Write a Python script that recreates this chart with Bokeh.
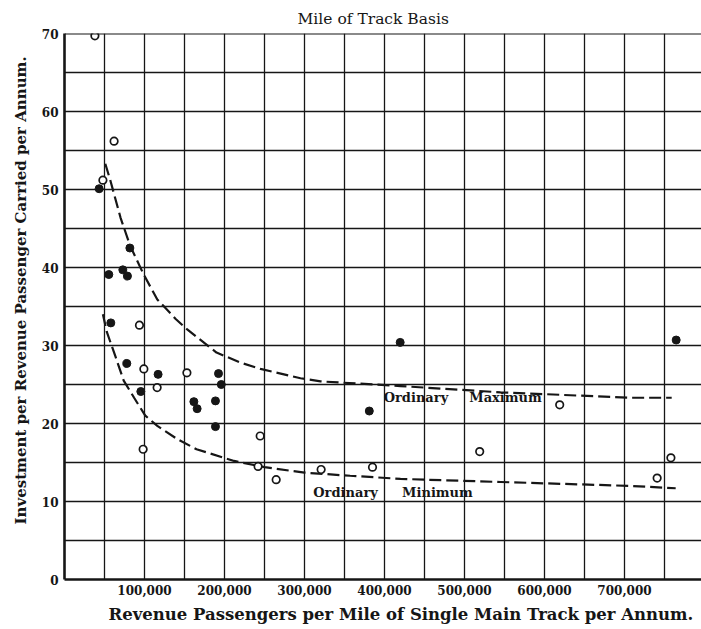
from bokeh.plotting import figure
from bokeh.models import FixedTicker, Range1d, Span, NumeralTickFormatter, ColumnDataSource, Title
from bokeh.core.properties import value
from bokeh.embed import file_html
from bokeh.resources import INLINE

# ---------------- data ----------------
# Revenue passengers per mile of single main track per annum (x)
# Investment per revenue passenger carried per annum (y)
open_x = [38000, 62000, 48000, 93700, 99200, 115800, 153000, 98300, 244600,
          242000, 264600, 320800, 385000, 519000, 619000, 740800, 758000]
open_y = [69.7, 56.2, 51.2, 32.6, 27.0, 24.6, 26.5, 16.7, 18.4,
          14.5, 12.8, 14.1, 14.4, 16.4, 22.4, 13.0, 15.6]

filled_x = [43300, 81700, 55400, 72900, 78700, 57900, 77900, 95400, 117000,
            161700, 165800, 188700, 192500, 196000, 188700, 381000, 419600, 764600]
filled_y = [50.1, 42.5, 39.1, 39.7, 38.9, 32.9, 27.7, 24.1, 26.3,
            22.8, 21.9, 22.9, 26.4, 25.0, 19.6, 21.6, 30.4, 30.7]

# "Ordinary Maximum" curve
max_x = [51000, 57500, 70000, 82000, 99000, 116000, 139000, 153000, 190000,
         220000, 245000, 295000, 320000, 420000, 545000, 707000, 759000]
max_y = [53.3, 51.1, 46.4, 42.8, 39.1, 35.9, 33.4, 32.1, 29.1,
         27.8, 27.0, 25.8, 25.4, 24.8, 24.0, 23.3, 23.3]

# "Ordinary Minimum" curve
min_x = [48000, 53000, 64000, 74000, 87000, 101000, 116000, 141000, 165000,
         212000, 250000, 300000, 357000, 420000, 545000, 707000, 764000]
min_y = [34.0, 31.7, 28.5, 25.5, 23.3, 21.0, 19.7, 18.0, 16.7,
         15.2, 14.4, 13.7, 13.3, 12.9, 12.5, 12.0, 11.7]

x_tick_values = [100000, 200000, 300000, 400000, 500000, 600000, 700000]
y_tick_values = [0, 10, 20, 30, 40, 50, 60, 70]

curve_words = ["Ordinary", "Maximum", "Ordinary", "Minimum"]
curve_word_x = [399000, 506000, 311000, 422000]
curve_word_y = [23.3, 23.3, 11.2, 11.2]

chart_title = "Mile of Track Basis"
x_title = "Revenue Passengers per Mile of Single Main Track per Annum."
y_title = "Investment per Revenue Passenger Carried per Annum."

# ---------------- figure ----------------
INK = "#161616"
SERIF = "DejaVu Serif"

p = figure(width=701, height=629, output_backend="svg",
           toolbar_location=None,
           x_range=Range1d(0, 796250), y_range=Range1d(0, 70),
           min_border_left=64, min_border_right=0, min_border_top=33,
           min_border_bottom=50)

p.background_fill_color = "white"
p.border_fill_color = "white"
p.outline_line_color = None

# grid
p.xgrid.ticker = FixedTicker(ticks=[50000 * i for i in range(1, 16)])
p.ygrid.ticker = FixedTicker(ticks=[5 * i for i in range(1, 14)])
for g in (p.xgrid, p.ygrid):
    g.grid_line_color = INK
    g.grid_line_width = 1.3
    g.grid_line_alpha = 1.0

# axes
p.xaxis.ticker = FixedTicker(ticks=x_tick_values)
p.yaxis.ticker = FixedTicker(ticks=y_tick_values)
p.xaxis.formatter = NumeralTickFormatter(format="0,0")
for ax in (p.xaxis, p.yaxis):
    ax.axis_line_color = INK
    ax.axis_line_width = 2.6
    ax.major_tick_line_color = None
    ax.minor_tick_line_color = None
    ax.major_tick_out = 0
    ax.major_tick_in = 0
    ax.minor_tick_out = 0
    ax.minor_tick_in = 0
    ax.major_label_text_font = SERIF
    ax.major_label_text_font_style = "bold"
    ax.major_label_text_font_size = "12px"
    ax.major_label_text_color = INK
p.xaxis.major_label_standoff = 5
p.yaxis.major_label_standoff = 6

# titles (left-aligned with offsets to match the reference's positions)
t_top = Title(text=chart_title, align="left", offset=233, standoff=11,
              text_font=SERIF, text_font_style="normal", text_font_size="15.5px",
              text_color=INK)
p.add_layout(t_top, "above")
t_x = Title(text=x_title, align="left", offset=44, standoff=10,
            text_font=SERIF, text_font_style="bold", text_font_size="16.5px",
            text_color=INK)
p.add_layout(t_x, "below")
t_y = Title(text=y_title, align="left", offset=55, standoff=18,
            text_font=SERIF, text_font_style="bold", text_font_size="15px",
            text_color=INK)
p.add_layout(t_y, "left")

# top border line
p.add_layout(Span(location=70, dimension="width", line_color=INK, line_width=2.2))

# curves
p.line(max_x, max_y, line_color=INK, line_width=2.2, line_dash="12 5")
p.line(min_x, min_y, line_color=INK, line_width=2.2, line_dash="12 5")

# points
p.scatter(filled_x, filled_y, marker="circle", size=8, fill_color=INK,
          line_color=INK, line_width=1)
p.scatter(open_x, open_y, marker="circle", size=7.5, fill_color="white",
          line_color=INK, line_width=1.7)

# curve labels
src = ColumnDataSource(dict(x=curve_word_x, y=curve_word_y, t=curve_words))
p.text(x="x", y="y", text="t", source=src, text_font=value(SERIF),
       text_font_style="bold", text_font_size="13px", text_color=INK,
       text_align="left", text_baseline="middle")

open("out.html", "w").write(file_html(p, INLINE))
